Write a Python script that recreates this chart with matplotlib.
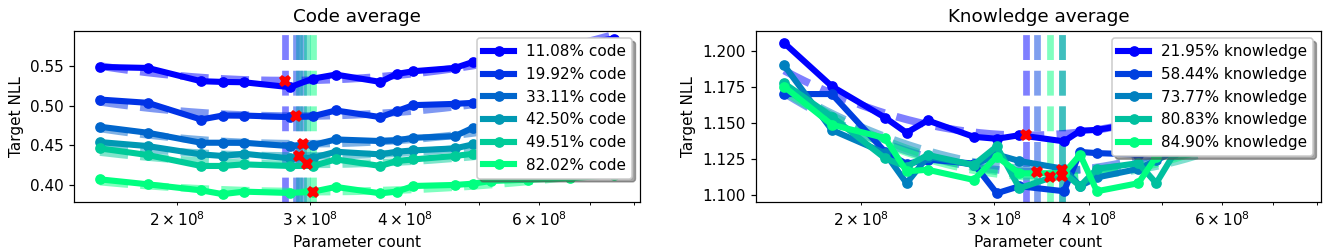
import numpy as np
import matplotlib
matplotlib.use("Agg")
import matplotlib.pyplot as plt

# ---------------- data ----------------
params = np.array([1.585, 1.832, 2.153, 2.299, 2.451, 2.819, 3.024, 3.24, 3.71,
                   3.896, 4.10, 4.65, 4.91, 5.19, 5.8, 6.6, 7.53]) * 1e8

code_labels = ["11.08% code", "19.92% code", "33.11% code",
               "42.50% code", "49.51% code", "82.02% code"]
code_11 = [0.5484, 0.5471, 0.5305, 0.5296, 0.5292, 0.5230, 0.5338, 0.5388, 0.5296,
           0.5396, 0.5430, 0.5471, 0.5546, 0.5570, 0.5650, 0.5750, 0.5840]
code_19 = [0.5075, 0.5034, 0.4825, 0.4875, 0.4875, 0.4855, 0.4867, 0.4938, 0.4855,
           0.4930, 0.5005, 0.5021, 0.5034, 0.5070, 0.5120, 0.5200, 0.5300]
code_33 = [0.4734, 0.4659, 0.4534, 0.4534, 0.4534, 0.4492, 0.4505, 0.4575, 0.4555,
           0.4563, 0.4596, 0.4617, 0.4721, 0.4750, 0.4800, 0.4850, 0.4900]
code_42 = [0.4542, 0.4492, 0.4388, 0.4368, 0.4396, 0.4338, 0.4346, 0.4421, 0.4388,
           0.4421, 0.4438, 0.4463, 0.4513, 0.4540, 0.4580, 0.4620, 0.4670]
code_49 = [0.4463, 0.4380, 0.4243, 0.4243, 0.4263, 0.4243, 0.4243, 0.4325, 0.4243,
           0.4305, 0.4325, 0.4368, 0.4396, 0.4420, 0.4460, 0.4500, 0.4550]
code_82 = [0.4075, 0.4013, 0.3938, 0.3890, 0.3921, 0.3905, 0.3921, 0.3980, 0.3900,
           0.3921, 0.3992, 0.4005, 0.4021, 0.4055, 0.4070, 0.4090, 0.4130]
code_opt_n = np.array([2.78, 2.87, 2.93, 2.90, 2.97, 3.02]) * 1e8
code_opt_loss = [0.5313, 0.4868, 0.4521, 0.4368, 0.4263, 0.3921]

know_labels = ["21.95% knowledge", "58.44% knowledge", "73.77% knowledge",
               "80.83% knowledge", "84.90% knowledge"]
know_21 = [1.2058, 1.1756, 1.1538, 1.1432, 1.1518, 1.1404, 1.1390, 1.1415, 1.1372,
           1.1446, 1.1452, 1.1500, 1.1540, 1.1580, 1.1650, 1.1750, 1.1880]
know_58 = [1.1702, 1.1702, 1.1300, 1.1215, 1.1245, 1.1217, 1.1010, 1.1059, 1.1024,
           1.1298, 1.1290, 1.1280, 1.1300, 1.1350, 1.1450, 1.1550, 1.1650]
know_73 = [1.1902, 1.1451, 1.1290, 1.1080, 1.1265, 1.1207, 1.1280, 1.1235, 1.1180,
           1.1060, 1.1120, 1.1180, 1.1240, 1.1300, 1.1400, 1.1500, 1.1600]
know_80 = [1.1777, 1.1544, 1.1254, 1.1195, 1.1277, 1.1207, 1.1337, 1.1045, 1.1150,
           1.1060, 1.1180, 1.1220, 1.1080, 1.1290, 1.1380, 1.1480, 1.1580]
know_84 = [1.1753, 1.1488, 1.1395, 1.1163, 1.1174, 1.1103, 1.1265, 1.1149, 1.1150,
           1.1279, 1.1024, 1.1080, 1.1265, 1.1350, 1.1420, 1.1500, 1.1600]
know_opt_n = np.array([3.31, 3.42, 3.69, 3.69, 3.56]) * 1e8
know_opt_loss = [1.1414, 1.1160, 1.1170, 1.1128, 1.1121]

code_series = [code_11, code_19, code_33, code_42, code_49, code_82]
know_series = [know_21, know_58, know_73, know_80, know_84]

# ---------------- plot ----------------
fig = plt.figure(figsize=(1332 / 110, 251 / 110), dpi=110)
ax1 = fig.add_axes([0.0556, 0.1964, 0.4249, 0.6813])
ax2 = fig.add_axes([0.5676, 0.1964, 0.4241, 0.6813])


def draw(ax, series, labels, opt_n, opt_l, title, xlim, ylim):
    colors = plt.cm.winter(np.linspace(0, 1, len(series)))
    for i, (y, lab) in enumerate(zip(series, labels)):
        y = np.asarray(y)
        x = params[:len(y)]
        ax.plot(x, y, '-o', color=colors[i], lw=4, ms=6, label=lab, zorder=3)
        u = np.log10(x) - np.log10(opt_n[i])
        c = np.sum((y - opt_l[i]) * u ** 2) / np.sum(u ** 4)
        xx = np.geomspace(x.min(), x.max(), 200)
        yy = opt_l[i] + c * (np.log10(xx) - np.log10(opt_n[i])) ** 2
        ax.plot(xx, yy, '--', color=colors[i], alpha=0.5, lw=5, zorder=2)
        ax.axvline(opt_n[i], color=colors[i], alpha=0.5, lw=4.4, ls='--', zorder=1)
    for i in range(len(series)):
        ax.plot([opt_n[i]], [opt_l[i]], 'X', color='red', ms=7, zorder=4)
    ax.set_xscale('log')
    ax.set_xlim(*xlim)
    ax.set_ylim(*ylim)
    ax.set_title(title)
    ax.set_xlabel("Parameter count")
    ax.set_ylabel("Target NLL")
    ax.legend(loc='upper right', shadow=True)


draw(ax1, code_series, code_labels, code_opt_n, code_opt_loss, "Code average",
     (1.465e8, 8.15e8), (0.3795, 0.5938))
draw(ax2, know_series, know_labels, know_opt_n, know_opt_loss, "Knowledge average",
     (1.455e8, 8.1e8), (1.0951, 1.2144))

fig.savefig("out.png", dpi=110)
